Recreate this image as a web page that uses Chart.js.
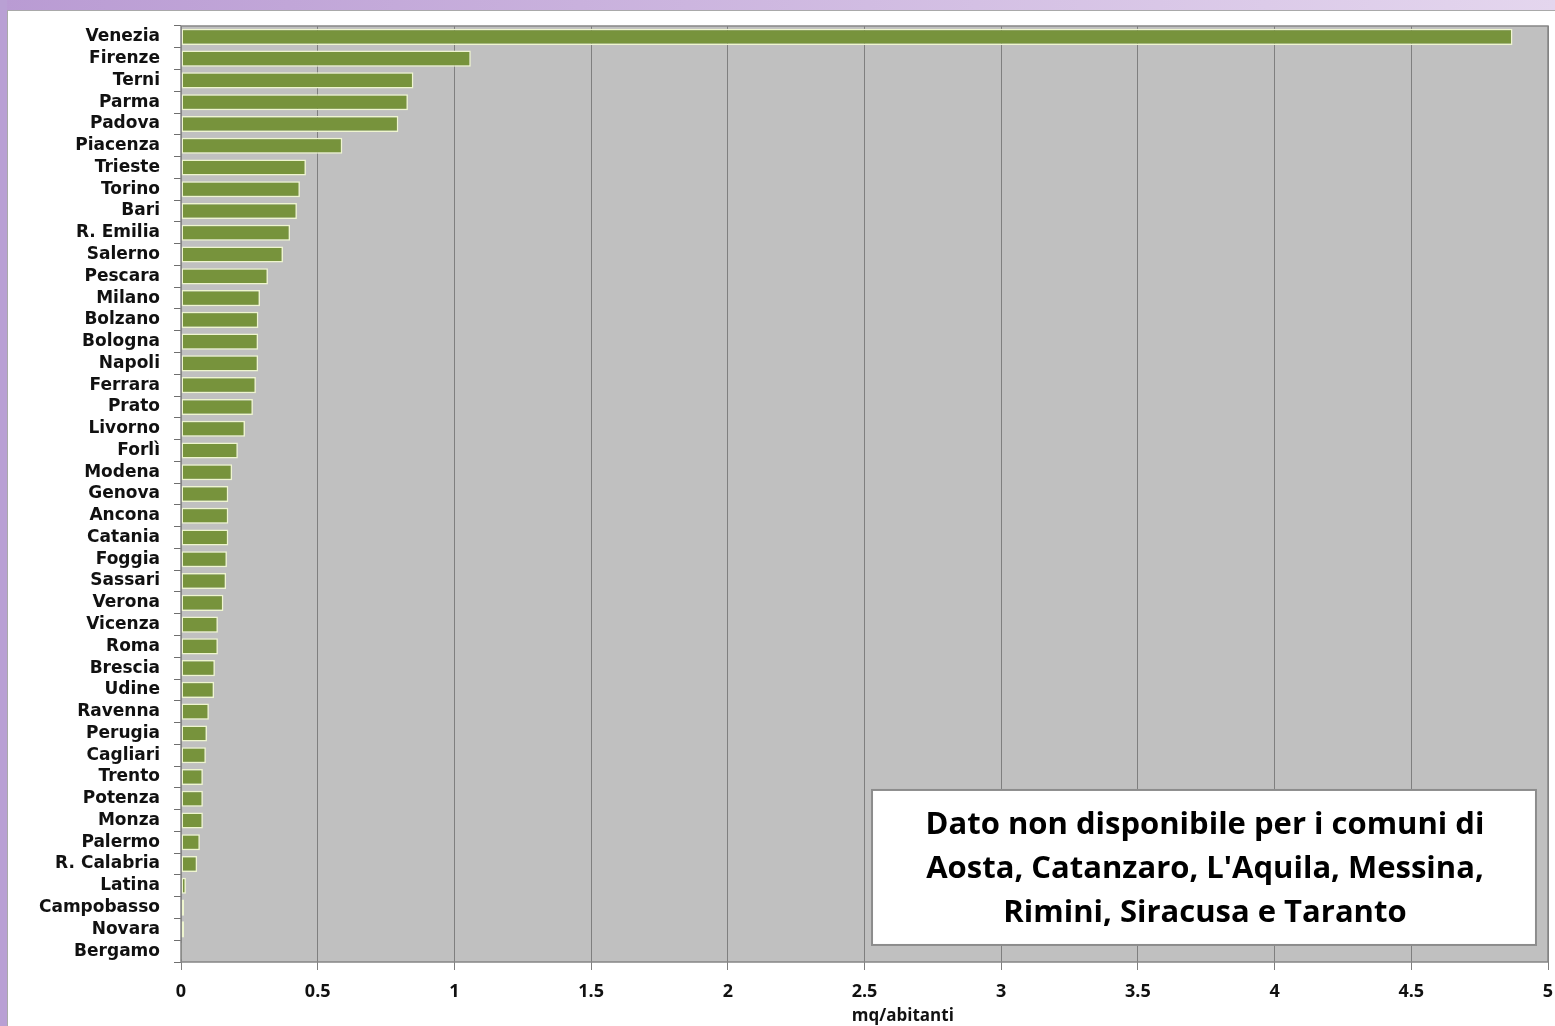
<!DOCTYPE html>
<html><head><meta charset="utf-8">
<script src="https://cdn.jsdelivr.net/npm/chart.js@4/dist/chart.umd.min.js"></script>
<style>html,body{margin:0;padding:0;background:#fff}#wrap{width:1555px;height:1026px;position:relative}</style>
</head><body><div id="wrap"><canvas id="c" width="1555" height="1026"></canvas></div>
<script>
const cities = ["Venezia","Firenze","Terni","Parma","Padova","Piacenza","Trieste","Torino","Bari","R. Emilia","Salerno","Pescara","Milano","Bolzano","Bologna","Napoli","Ferrara","Prato","Livorno","Forlì","Modena","Genova","Ancona","Catania","Foggia","Sassari","Verona","Vicenza","Roma","Brescia","Udine","Ravenna","Perugia","Cagliari","Trento","Potenza","Monza","Palermo","R. Calabria","Latina","Campobasso","Novara","Bergamo"];
const values = [4.87,1.06,0.85,0.83,0.795,0.59,0.457,0.435,0.424,0.399,0.373,0.318,0.289,0.283,0.282,0.282,0.274,0.263,0.234,0.208,0.187,0.173,0.173,0.173,0.168,0.165,0.155,0.135,0.135,0.124,0.121,0.102,0.095,0.091,0.080,0.080,0.080,0.069,0.059,0.018,0.011,0.011,0.004];
const xTicks = [0,0.5,1,1.5,2,2.5,3,3.5,4,4.5,5];
const axisTitle = "mq/abitanti";
const noteLines = ["Dato non disponibile per i comuni di","Aosta, Catanzaro, L'Aquila, Messina,","Rimini, Siracusa e Taranto"];

const frame = {
  id:'frame',
  beforeDraw(chart){
    const ctx = chart.ctx, W = chart.width, H = chart.height;
    ctx.save();
    const g = ctx.createLinearGradient(0,0,W,0);
    g.addColorStop(0,'#b99bd3'); g.addColorStop(1,'#e4d6ee');
    ctx.fillStyle = g; ctx.fillRect(0,0,W,H);
    ctx.fillStyle = '#b9a0d4'; ctx.fillRect(0,0,7,H);
    ctx.fillStyle = '#ffffff'; ctx.fillRect(7,10,W-7,H-10);
    ctx.strokeStyle = '#a9a9a9'; ctx.lineWidth = 1; ctx.strokeRect(7.5,10.5,W,H);
    const a = chart.chartArea;
    ctx.fillStyle = '#c0c0c0';
    ctx.fillRect(a.left,a.top,a.right-a.left,a.bottom-a.top);
    ctx.restore();
  },
  afterDraw(chart){
    const ctx = chart.ctx, a = chart.chartArea, xs = chart.scales.x;
    ctx.save();
    ctx.strokeStyle = '#868686'; ctx.lineWidth = 1.5;
    ctx.strokeRect(a.left,a.top,a.right-a.left,a.bottom-a.top);
    // axis title
    ctx.fillStyle = '#111'; ctx.textAlign = 'center'; ctx.textBaseline = 'middle';
    ctx.font = 'bold 17px "Open Sans"';
    ctx.fillText(axisTitle, xs.getPixelForValue(2.64), a.bottom + 54);
    // note box
    const w = a.right-a.left, h = a.bottom-a.top;
    const bx = a.left + 0.5055*w, by = a.top + 0.8162*h;
    const bw = 0.4857*w, bh = 0.1656*h;
    ctx.fillStyle = '#ffffff'; ctx.fillRect(bx,by,bw,bh);
    ctx.strokeStyle = '#8c8c8c'; ctx.lineWidth = 2; ctx.strokeRect(bx,by,bw,bh);
    ctx.fillStyle = '#000';
    ctx.font = 'bold 31px "Open Sans"';
    const cx = bx + bw/2 + 1;
    noteLines.forEach((t,i)=>{ ctx.fillText(t, cx, by + 35 + i*44); });
    ctx.restore();
  }
};

new Chart(document.getElementById('c'), {
  type:'bar',
  data:{ labels: cities, datasets:[{ data: values, backgroundColor:'#77933c', borderColor:'#eef5cf', borderWidth:1.5, borderSkipped:false, barPercentage:0.74, categoryPercentage:1 }]},
  options:{
    indexAxis:'y', responsive:false, animation:false, devicePixelRatio:1,
    layout:{ padding:{ top:26, right:7, left:10, bottom:0 } },
    plugins:{ legend:{display:false}, tooltip:{enabled:false} },
    scales:{
      x:{ min:0, max:5, afterBuildTicks(s){ s.ticks = xTicks.map(v=>({value:v})); },
        afterFit(s){ s.height = 64; s.paddingRight = 0; s.paddingLeft = 0; },
        grid:{ color:'#7f7f7f', lineWidth:1, drawTicks:true, tickLength:8, tickColor:'#7f7f7f' },
        border:{ display:false },
        ticks:{ color:'#111', font:{ family:'"Open Sans"', size:18, weight:'bold' }, padding:11, maxRotation:0, callback:(v)=>String(v) },
        title:{ display:false }
      },
      y:{ afterFit(s){ s.width = 171; },
        grid:{ offset:true, drawOnChartArea:false, drawTicks:true, tickLength:7, tickColor:'#6f6f6f' },
        border:{ display:false },
        ticks:{ color:'#111', font:{ family:'"DejaVu Sans"', size:17, weight:'bold' }, padding:14, autoSkip:false }
      }
    }
  },
  plugins:[frame]
});
</script></body></html>
